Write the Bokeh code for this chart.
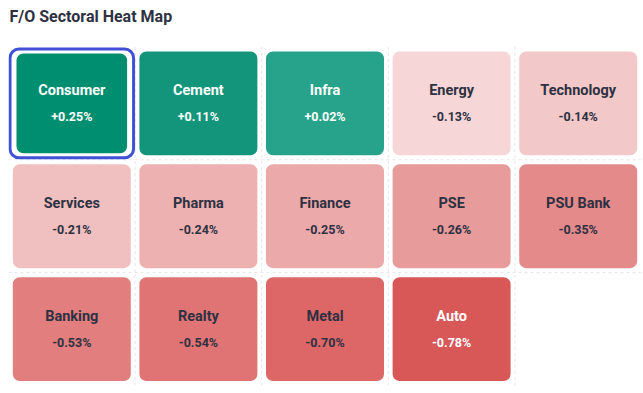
from bokeh.plotting import figure
from bokeh.models import ColumnDataSource, Range1d
from bokeh.core.properties import value
from bokeh.embed import file_html
from bokeh.resources import INLINE

title_text = "F/O Sectoral Heat Map"
sectors = ["Consumer", "Cement", "Infra", "Energy", "Technology",
           "Services", "Pharma", "Finance", "PSE", "PSU Bank",
           "Banking", "Realty", "Metal", "Auto"]
changes = [0.25, 0.11, 0.02, -0.13, -0.14,
           -0.21, -0.24, -0.25, -0.26, -0.35,
           -0.53, -0.54, -0.70, -0.78]
colors = ["#008e71", "#13957b", "#26a38a", "#f6d6d6", "#f3c8c8",
          "#f0c0c0", "#edb1b1", "#eba9a9", "#e89b9b", "#e48a8a",
          "#e27e7e", "#e07474", "#dd6767", "#d85757"]
selected = "Consumer"
ncols = 5
nrows = 3

cols = [i % ncols for i in range(len(sectors))]
rows = [i // ncols for i in range(len(sectors))]
labels = [("+" if v > 0 else "") + f"{v:.2f}%" for v in changes]
txt_colors = ["#ffffff" if (v > 0 or v <= -0.75) else "#2e3142" for v in changes]

mx = [0.063 if s == selected else 0.034 for s in sectors]
my = [0.058 if s == selected else 0.040 for s in sectors]

src = ColumnDataSource(dict(
    left=[c + m for c, m in zip(cols, mx)],
    right=[c + 1 - m for c, m in zip(cols, mx)],
    top=[r + m for r, m in zip(rows, my)],
    bottom=[r + 1 - m for r, m in zip(rows, my)],
    xc=[c + 0.5 for c in cols],
    yn=[r + 0.39 for r in rows],
    yv=[r + 0.62 for r in rows],
    name=sectors, lab=labels, color=colors, tcol=txt_colors,
))

top_space = 46.5 / 113.0
p = figure(width=643, height=393, output_backend="svg", toolbar_location=None,
           x_range=Range1d(0, ncols), y_range=Range1d(nrows, -top_space),
           min_border_left=8, min_border_right=2, min_border_top=0,
           min_border_bottom=8, outline_line_color=None)
p.axis.visible = False
p.grid.visible = False

# dashed grid lines between cells
vx = list(range(1, ncols))
hy = list(range(1, nrows))
p.segment(x0=vx, x1=vx, y0=[0] * len(vx), y1=[nrows] * len(vx),
          line_color="#e3e5ea", line_dash="3 3", line_width=1)
p.segment(x0=[0] * len(hy), x1=[ncols] * len(hy), y0=hy, y1=hy,
          line_color="#e3e5ea", line_dash="3 3", line_width=1)

# title
p.text(x=[0.008], y=[-0.27], text=[title_text], text_align="left",
       text_baseline="middle", text_font=value("Roboto"), text_font_size="16px",
       text_font_style="bold", text_color="#2e3142")

si = sectors.index(selected)
sel = ColumnDataSource(dict(
    left=[cols[si] + 0.012], right=[cols[si] + 1 - 0.012],
    top=[rows[si] + 0.018], bottom=[rows[si] + 1 - 0.018]))
p.quad(left="left", right="right", top="top", bottom="bottom", source=sel,
       fill_color=None, line_color="#4051d6", line_width=3, border_radius=9)

p.quad(left="left", right="right", top="top", bottom="bottom", source=src,
       fill_color="color", line_color=None, border_radius=7)

p.text(x="xc", y="yn", text="name", source=src, text_align="center",
       text_baseline="middle", text_font=value("Roboto"), text_font_size="14.5px",
       text_font_style="bold", text_color="tcol")
p.text(x="xc", y="yv", text="lab", source=src, text_align="center",
       text_baseline="middle", text_font=value("Roboto"), text_font_size="12.5px",
       text_font_style="bold", text_color="tcol")

open("out.html", "w").write(file_html(p, INLINE))
